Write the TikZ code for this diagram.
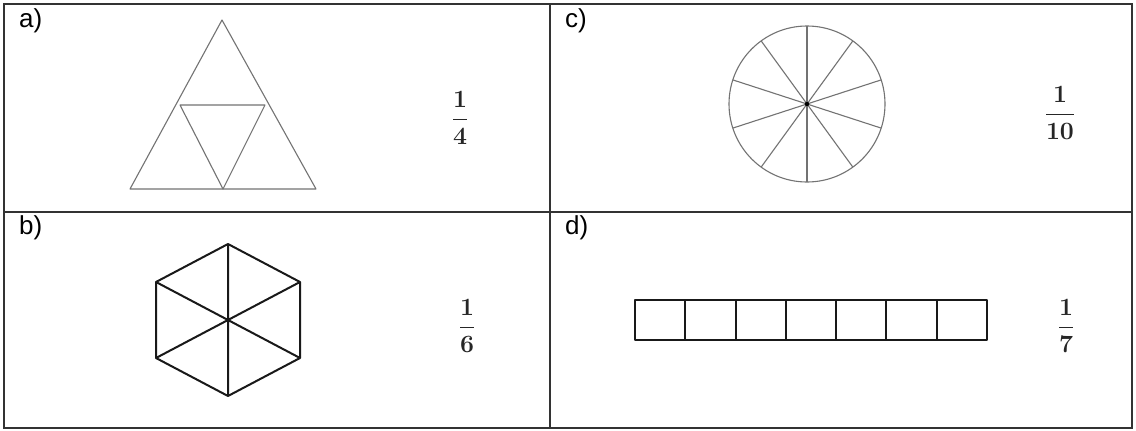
\documentclass[tikz,border=0pt]{standalone}
\usepackage{fontspec}
\newfontfamily\labfont{Liberation Sans}
\begin{document}
\begin{tikzpicture}[x=1pt,y=-1pt,
  frame/.style={draw=black!80,line width=2pt},
  thinline/.style={draw=black!55,line width=1.1pt,line join=round},
  thickline/.style={draw=black!90,line width=2pt,line join=round},
  lab/.style={anchor=north west,inner sep=0pt,font=\labfont\fontsize{26}{28}\selectfont},
  frac/.style={inner sep=0pt,text=black!85,font=\fontsize{26}{30}\selectfont\boldmath}]
\useasboundingbox (0,0) rectangle (1136,431);
\fill[white] (0,0) rectangle (1136,431);
% grid
\draw[frame] (4,4) rectangle (1132,428);
\draw[frame] (550,4) -- (550,428);
\draw[frame] (4,212) -- (1132,212);
% labels
\node[lab] (la) at (19,8) {a)};
\node[lab] (lc) at (565,8) {c)};
\node[lab] (lb) at (19,215) {b)};
\node[lab] (ld) at (565,215) {d)};
% a) triangle
\coordinate (tA) at (222,20);
\coordinate (tL) at (130,189);
\coordinate (tR) at (316,189);
\coordinate (mL) at (180,105);
\coordinate (mR) at (265,105);
\coordinate (mB) at (223,189);
\draw[thinline] (tA) -- (tL) -- (tR) -- cycle;
\draw[thinline] (mL) -- (mR) -- (mB) -- cycle;
\node[frac] (fa) at (460,118) {$\displaystyle\frac{1}{4}$};
% c) circle
\coordinate (cc) at (807,104);
\draw[thinline] (cc) circle (78);
\foreach \k in {0,...,9}{
  \draw[thinline] (cc) -- ++({90+36*\k}:78);
}
\fill[black] (cc) circle (2.2);
\node[frac] (fc) at (1060,113) {$\displaystyle\frac{1}{10}$};
% b) hexagon
\coordinate (hc) at (228,320);
\coordinate (h1) at (228,244);
\coordinate (h2) at (300,282);
\coordinate (h3) at (300,358);
\coordinate (h4) at (228,396);
\coordinate (h5) at (156,358);
\coordinate (h6) at (156,282);
\draw[thickline] (h1) -- (h2) -- (h3) -- (h4) -- (h5) -- (h6) -- cycle;
\draw[thickline] (h1) -- (h4) (h2) -- (h5) (h3) -- (h6);
\node[frac] (fb) at (467,326) {$\displaystyle\frac{1}{6}$};
% d) bar of 7 squares
\draw[thickline] (635,300) rectangle (987,340);
\foreach \i in {1,...,6}{
  \draw[thickline] ({635+\i*352/7},300) -- ({635+\i*352/7},340);
}
\node[frac] (fd) at (1066,326) {$\displaystyle\frac{1}{7}$};
\end{tikzpicture}
\end{document}
